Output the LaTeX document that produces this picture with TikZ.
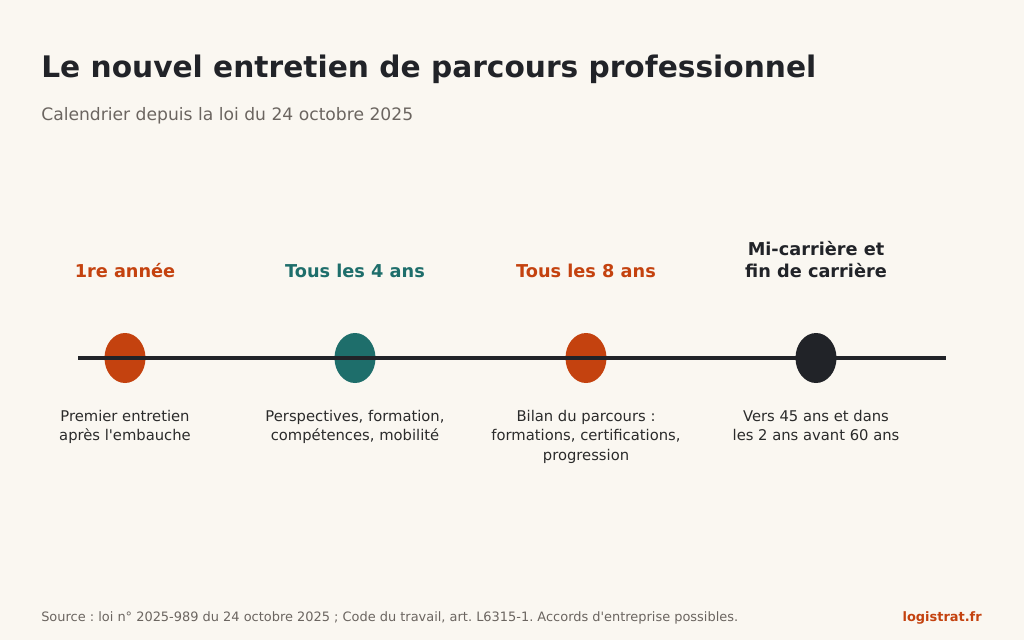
\documentclass[tikz,border=0pt]{standalone}
\usepackage{fontspec}
\setmainfont{DejaVu Sans}
\usetikzlibrary{shapes.geometric}
\definecolor{bgcream}{HTML}{FAF7F1}
\definecolor{rust}{HTML}{C4420F}
\definecolor{teal}{HTML}{1E6E6B}
\definecolor{ink}{HTML}{212328}
\definecolor{greytxt}{HTML}{6B6560}
\definecolor{bodytxt}{HTML}{2B2B2B}
\frenchspacing
\begin{document}
\begin{tikzpicture}[x=0.025cm,y=-0.025cm]
		\tikzstyle{stage} = [ellipse,minimum width=1.025cm,minimum height=1.25cm,inner sep=0]
		\tikzstyle{period} = [align=center,anchor=base,inner sep=0,font=\fontsize{12.6}{15}\bfseries\selectfont]
		\tikzstyle{detail} = [align=center,anchor=north,inner sep=0,text=bodytxt,font=\fontsize{10.5}{14.2}\selectfont]
		\fill[bgcream] (0,0) rectangle (1024,640);
		\useasboundingbox (0,0) rectangle (1024,640);

		\node[anchor=base west,inner sep=0,text=ink,font=\fontsize{21.1}{25}\bfseries\selectfont] (title) at (41,77) {Le nouvel entretien de parcours professionnel};
		\node[anchor=base west,inner sep=0,text=greytxt,font=\fontsize{12.2}{14}\selectfont] (subtitle) at (41,120) {Calendrier depuis la loi du 24 octobre 2025};

		\coordinate (start) at (78,358);
		\coordinate (end) at (946,358);

		\node[stage,fill=rust] (first) at (125,358) {};
		\node[stage,fill=teal] (four) at (355,358) {};
		\node[stage,fill=rust] (eight) at (586,358) {};
		\node[stage,fill=ink] (career) at (816,358) {};
		\draw[ink,line width=2.5pt] (start) -- (end);

		\node[period,text=rust] (firstlbl) at (125,277) {1re année};
		\node[period,text=teal] (fourlbl) at (355,277) {Tous les 4 ans};
		\node[period,text=rust] (eightlbl) at (586,277) {Tous les 8 ans};
		\node[period,text=ink] (careerlbl) at (816,277) {Mi-carrière et\\fin de carrière};

		\node[detail] (firsttxt) at (125,409.5) {Premier entretien\\après l\textquotesingle embauche};
		\node[detail] (fourtxt) at (355,409.5) {Perspectives, formation,\\compétences, mobilité};
		\node[detail] (eighttxt) at (586,409.5) {Bilan du parcours :\\formations, certifications,\\progression};
		\node[detail] (careertxt) at (816,409.5) {Vers 45 ans et dans\\les 2 ans avant 60 ans};

		\node[anchor=base west,inner sep=0,text=greytxt,font=\fontsize{9.2}{11}\selectfont] (source) at (41,621) {Source : loi n° 2025-989 du 24 octobre 2025 ; Code du travail, art. L6315-1. Accords d\textquotesingle entreprise possibles.};
		\node[anchor=base east,inner sep=0,text=rust,font=\fontsize{9.2}{11}\bfseries\selectfont] (site) at (982,621) {logistrat.fr};
	\end{tikzpicture}
\end{document}
